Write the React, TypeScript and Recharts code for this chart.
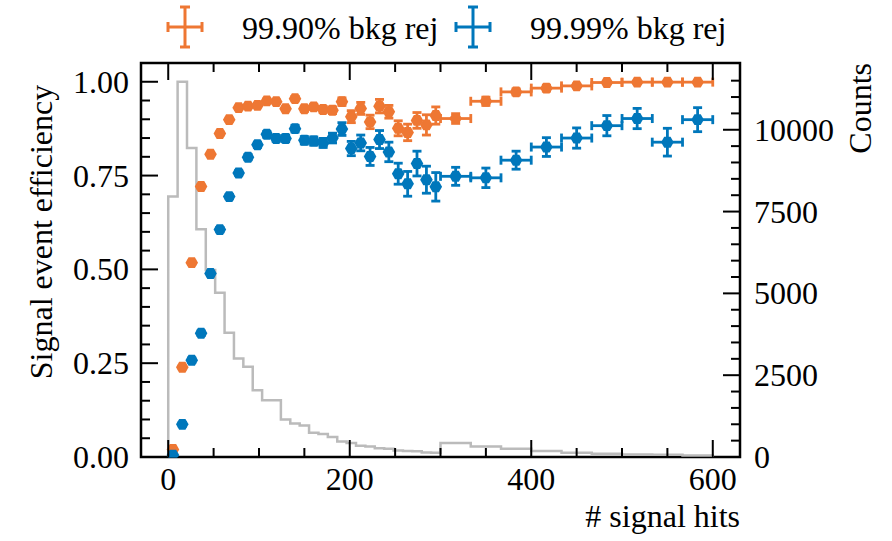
import React from 'react';
import { ComposedChart, XAxis, YAxis, Scatter, Line, ErrorBar, ReferenceArea } from 'recharts';

// ---------- data ----------
const fineCenters = [5.2, 15.5, 25.9, 36.2, 46.6, 56.9, 67.2, 77.6, 87.9, 98.3, 108.6, 119.0, 129.3, 139.7, 150.0, 160.3, 170.7, 181.0, 191.4, 201.7, 212.1, 222.4, 232.8, 243.1, 253.4, 263.8, 274.1, 284.5, 294.8];
const coarseCenters = [316.7, 350.0, 383.3, 416.7, 450.0, 483.3, 516.7, 550.0, 583.3];
const coarseHalfWidth = 16.67;

// 99.90% bkg rej
const effFine999 = [0.020, 0.239, 0.518, 0.721, 0.807, 0.862, 0.899, 0.931, 0.935, 0.937, 0.949, 0.947, 0.928, 0.955, 0.928, 0.933, 0.926, 0.924, 0.947, 0.907, 0.929, 0.893, 0.935, 0.920, 0.876, 0.865, 0.897, 0.885, 0.910];
const errFine999 = [0.003, 0.004, 0.004, 0.004, 0.004, 0.004, 0.004, 0.004, 0.004, 0.004, 0.005, 0.005, 0.005, 0.006, 0.007, 0.007, 0.008, 0.009, 0.010, 0.016, 0.016, 0.018, 0.018, 0.017, 0.020, 0.022, 0.021, 0.027, 0.023];
const effCoarse999 = [0.902, 0.948, 0.973, 0.983, 0.989, 0.998, 0.999, 0.999, 0.999];
const errCoarse999 = [0.013, 0.011, 0.008, 0.008, 0.005, 0.003, 0.003, 0.003, 0.003];

// 99.99% bkg rej
const effFine9999 = [0.005, 0.087, 0.258, 0.330, 0.489, 0.606, 0.694, 0.757, 0.799, 0.832, 0.860, 0.849, 0.849, 0.875, 0.844, 0.842, 0.837, 0.850, 0.874, 0.822, 0.837, 0.801, 0.846, 0.813, 0.755, 0.728, 0.782, 0.739, 0.720];
const errFine9999 = [0.003, 0.005, 0.006, 0.006, 0.006, 0.006, 0.006, 0.006, 0.007, 0.007, 0.008, 0.008, 0.009, 0.009, 0.010, 0.011, 0.012, 0.013, 0.017, 0.019, 0.021, 0.024, 0.024, 0.026, 0.028, 0.033, 0.033, 0.036, 0.038];
const effCoarse9999 = [0.748, 0.744, 0.791, 0.826, 0.850, 0.883, 0.902, 0.839, 0.899];
const errCoarse9999 = [0.024, 0.026, 0.024, 0.025, 0.027, 0.027, 0.027, 0.037, 0.032];

// histogram of signal hits (bin left edges incl. final right edge, counts)
const histEdges = [0, 10.34, 20.69, 31.03, 41.38, 51.72, 62.07, 72.41, 82.76, 93.10, 103.45, 113.79, 124.14, 134.48, 144.83, 155.17, 165.52, 175.86, 186.21, 196.55, 206.90, 217.24, 227.59, 237.93, 248.28, 258.62, 268.97, 279.31, 289.66, 300, 333.33, 366.67, 400, 433.33, 466.67, 500, 533.33, 566.67, 600];
const histCounts = [7960, 11470, 9440, 6960, 5715, 5020, 3796, 3012, 2755, 2042, 1736, 1736, 1145, 1022, 960, 740, 700, 612, 470, 430, 340, 320, 265, 250, 200, 185, 175, 140, 130, 425, 322, 250, 180, 128, 98, 75, 65, 45];

const xMajorTicks = [0, 200, 400, 600];
const xMinorTicks = [0, 50, 100, 150, 200, 250, 300, 350, 400, 450, 500, 550, 600];
const yMajorTicks = [0, 0.25, 0.5, 0.75, 1.0];
const yMinorTicks = [0, 0.05, 0.1, 0.15, 0.2, 0.25, 0.3, 0.35, 0.4, 0.45, 0.5, 0.55, 0.6, 0.65, 0.7, 0.75, 0.8, 0.85, 0.9, 0.95, 1.0];
const cMajorTicks = [0, 2500, 5000, 7500, 10000];
const cMinorTicks = [0, 500, 1000, 1500, 2000, 2500, 3000, 3500, 4000, 4500, 5000, 5500, 6000, 6500, 7000, 7500, 8000, 8500, 9000, 9500, 10000, 10500, 11000, 11500];

const seriesNames = ['99.90% bkg rej', '99.99% bkg rej'];
const ORANGE = '#EE7733';
const BLUE = '#0077BB';
const GREY = '#BBBBBB';
const FONT = '"Liberation Serif", "Times New Roman", "DejaVu Serif", serif';
const FS = 32;

// ---------- derived tables ----------
const buildFine = (eff: number[], err: number[]) => fineCenters.map((x, i) => ({ x, y: eff[i], ey: err[i] }));
const buildCoarse = (eff: number[], err: number[]) =>
  coarseCenters.map((x, i) => ({ x, y: eff[i], ey: err[i], ex: coarseHalfWidth }));
const fine999 = buildFine(effFine999, errFine999);
const coarse999 = buildCoarse(effCoarse999, errCoarse999);
const fine9999 = buildFine(effFine9999, errFine9999);
const coarse9999 = buildCoarse(effCoarse9999, errCoarse9999);

const histData = [
  { x: histEdges[0], c: 0 },
  ...histCounts.map((c, i) => ({ x: histEdges[i], c })),
  { x: histEdges[histEdges.length - 1], c: histCounts[histCounts.length - 1] },
  { x: histEdges[histEdges.length - 1], c: 0 },
];

const W = 892;
const H = 541;
const MARGIN = { top: 63, right: 151, bottom: 83, left: 140 };
const PLOT_H = H - MARGIN.top - MARGIN.bottom - 1;
const MAJOR_LEN = 17;
const MINOR_LEN = 9;
const TICK_W = 2;
const EB_W = 2.8;
const CAP = 4.5;

const hexPoints = (cx: number, cy: number, r: number) => {
  const pts: string[] = [];
  for (let k = 0; k < 6; k++) {
    const a = (Math.PI / 3) * k;
    pts.push(`${cx + r * Math.cos(a)},${cy + r * Math.sin(a)}`);
  }
  return pts.join(' ');
};

const makeHex = (color: string) => (p: any) => (
  <polygon points={hexPoints(p.cx, p.cy, 6.3)} fill={color} />
);

const XTick = (props: any) => {
  const { x, y, payload } = props;
  const major = xMajorTicks.includes(payload.value);
  const len = major ? MAJOR_LEN : MINOR_LEN;
  return (
    <g>
      <line x1={x} x2={x} y1={y} y2={y - len} stroke="#000" strokeWidth={TICK_W} />
      <line x1={x} x2={x} y1={y - PLOT_H} y2={y - PLOT_H + len} stroke="#000" strokeWidth={TICK_W} />
      {major && (
        <text x={x} y={y + 33} textAnchor="middle" fontFamily={FONT} fontSize={FS} fill="#000">
          {payload.value}
        </text>
      )}
    </g>
  );
};

const fmt2 = (v: number) => v.toFixed(2);

const YLeftTick = (props: any) => {
  const { x, y, payload } = props;
  const major = yMajorTicks.some((t) => Math.abs(t - payload.value) < 1e-9);
  const len = major ? MAJOR_LEN : MINOR_LEN;
  return (
    <g>
      <line x1={x} x2={x + len} y1={y} y2={y} stroke="#000" strokeWidth={TICK_W} />
      {major && (
        <text x={x - 12} y={y + 11} textAnchor="end" fontFamily={FONT} fontSize={FS} fill="#000">
          {fmt2(payload.value)}
        </text>
      )}
    </g>
  );
};

const YRightTick = (props: any) => {
  const { x, y, payload } = props;
  const major = cMajorTicks.includes(payload.value);
  const len = major ? MAJOR_LEN : MINOR_LEN;
  return (
    <g>
      <line x1={x} x2={x - len} y1={y} y2={y} stroke="#000" strokeWidth={TICK_W} />
      {major && (
        <text x={x + 14} y={y + 11} textAnchor="start" fontFamily={FONT} fontSize={FS} fill="#000">
          {payload.value}
        </text>
      )}
    </g>
  );
};

const LegendIcon = ({ cx, cy, color }: { cx: number; cy: number; color: string }) => (
  <g stroke={color} strokeWidth={3}>
    <line x1={cx - 17} x2={cx + 17} y1={cy} y2={cy} />
    <line x1={cx} x2={cx} y1={cy - 20} y2={cy + 20} />
    <line x1={cx - 17} x2={cx - 17} y1={cy - 5} y2={cy + 5} />
    <line x1={cx + 17} x2={cx + 17} y1={cy - 5} y2={cy + 5} />
    <line x1={cx - 5} x2={cx + 5} y1={cy - 20} y2={cy - 20} />
    <line x1={cx - 5} x2={cx + 5} y1={cy + 20} y2={cy + 20} />
  </g>
);

const series = [
  { name: seriesNames[0], color: ORANGE, fine: fine999, coarse: coarse999 },
  { name: seriesNames[1], color: BLUE, fine: fine9999, coarse: coarse9999 },
];

export default function App() {
  return (
    <div style={{ position: 'absolute', left: 0, top: 0, width: W, height: H, background: '#fff' }}>
      <ComposedChart width={W} height={H} margin={MARGIN}>
        <XAxis
          xAxisId="x"
          dataKey="x"
          type="number"
          domain={[-30, 630]}
          allowDataOverflow
          ticks={xMinorTicks}
          interval={0}
          tick={<XTick />}
          tickLine={false}
          tickSize={0}
          tickMargin={0}
          axisLine={false}
          height={1}
        />
        <YAxis
          yAxisId="eff"
          dataKey="y"
          type="number"
          domain={[0, 1.05]}
          allowDataOverflow
          ticks={yMinorTicks}
          interval={0}
          tick={<YLeftTick />}
          tickLine={false}
          tickSize={0}
          tickMargin={0}
          axisLine={false}
          width={1}
        />
        <YAxis
          yAxisId="counts"
          orientation="right"
          type="number"
          domain={[0, 12040]}
          allowDataOverflow
          ticks={cMinorTicks}
          interval={0}
          tick={<YRightTick />}
          tickLine={false}
          tickSize={0}
          tickMargin={0}
          axisLine={false}
          width={1}
        />
        <Line
          xAxisId="x"
          yAxisId="counts"
          data={histData}
          dataKey="c"
          type="stepAfter"
          stroke={GREY}
          strokeWidth={2.5}
          dot={false}
          activeDot={false}
          isAnimationActive={false}
        />
        {series.flatMap((s) => [
          <Scatter
            key={s.name + '-fine'}
            xAxisId="x"
            yAxisId="eff"
            name={s.name}
            data={s.fine}
            dataKey="y"
            fill={s.color}
            shape={makeHex(s.color)}
            isAnimationActive={false}
          >
            <ErrorBar dataKey="ey" direction="y" stroke={s.color} strokeWidth={EB_W} width={CAP} />
          </Scatter>,
          <Scatter
            key={s.name + '-coarse'}
            xAxisId="x"
            yAxisId="eff"
            name={s.name}
            data={s.coarse}
            dataKey="y"
            fill={s.color}
            shape={makeHex(s.color)}
            isAnimationActive={false}
          >
            <ErrorBar dataKey="ey" direction="y" stroke={s.color} strokeWidth={EB_W} width={CAP} />
            <ErrorBar dataKey="ex" direction="x" stroke={s.color} strokeWidth={EB_W} width={CAP} />
          </Scatter>,
        ])}
        <ReferenceArea
          xAxisId="x"
          yAxisId="eff"
          x1={-30}
          x2={630}
          y1={0}
          y2={1.05}
          fill="none"
          fillOpacity={0}
          stroke="#000"
          strokeWidth={2.5}
          ifOverflow="visible"
        />
      </ComposedChart>
      <svg width={W} height={H} style={{ position: 'absolute', left: 0, top: 0, pointerEvents: 'none' }}>
        <LegendIcon cx={185} cy={27} color={ORANGE} />
        <text x={242} y={39} fontFamily={FONT} fontSize={FS} fill="#000">{seriesNames[0]}</text>
        <LegendIcon cx={473} cy={27} color={BLUE} />
        <text x={530} y={39} fontFamily={FONT} fontSize={FS} fill="#000">{seriesNames[1]}</text>
        <text
          x={52}
          y={232}
          transform="rotate(-90 52 232)"
          textAnchor="middle"
          fontFamily={FONT}
          fontSize={FS}
          fill="#000"
        >
          Signal event efficiency
        </text>
        <text
          x={871}
          y={63}
          transform="rotate(-90 871 63)"
          textAnchor="end"
          fontFamily={FONT}
          fontSize={FS}
          fill="#000"
        >
          Counts
        </text>
        <text x={740} y={527} textAnchor="end" fontFamily={FONT} fontSize={FS} fill="#000">
          # signal hits
        </text>
      </svg>
    </div>
  );
}
